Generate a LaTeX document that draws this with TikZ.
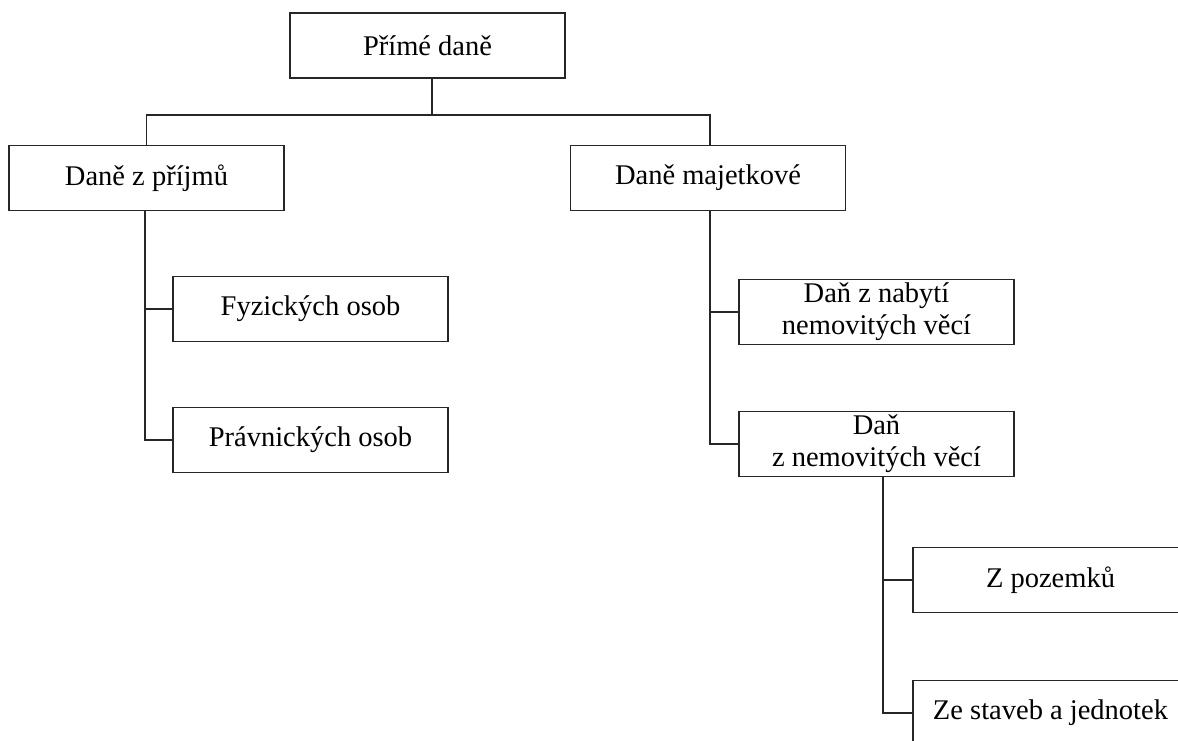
\documentclass[tikz,border=0pt]{standalone}
\usepackage{fontspec}
\setmainfont{Liberation Serif}
\begin{document}
\begin{tikzpicture}[x=1pt,y=-1pt,
  box/.style={draw=black!85,line width=1.9pt,inner sep=0pt,minimum width=275pt,minimum height=65pt,align=center,font=\fontsize{28.5}{32}\selectfont},
  link/.style={draw=black!85,line width=1.9pt}]
\useasboundingbox (0,0) rectangle (1178,740);
\clip (0,0) rectangle (1178,740);
\node[box] (top) at (427.5,45.5) {Přímé daně};
\node[box] (L1) at (146.5,178) {Daně z příjmů};
\node[box] (R1) at (708,178) {Daně majetkové};
\node[box] (F) at (310.5,309) {Fyzických osob};
\node[box] (P) at (310.5,440) {Právnických osob};
\node[box] (DN) at (876.5,312) {Daň z nabytí\\nemovitých věcí};
\node[box] (DZ) at (876.5,444) {Daň\\z nemovitých věcí};
\node[box] (ZP) at (1050.5,580) {Z pozemků};
\node[box] (ZS) at (1050.5,713) {Ze staveb a jednotek};
\coordinate (j) at ([xshift=4.5pt]top.south |- 0,115);
\draw[link] ([xshift=4.5pt]top.south) -- (j);
\draw[link] (L1.north) |- (j) -| ([xshift=2pt]R1.north);
\draw[link] ([xshift=-1.5pt]L1.south) |- (F.west);
\draw[link] ([xshift=-1.5pt]L1.south) |- (P.west);
\draw[link] ([xshift=2pt]R1.south) |- (DN.west);
\draw[link] ([xshift=2pt]R1.south) |- (DZ.west);
\draw[link] ([xshift=6.5pt]DZ.south) |- (ZP.west);
\draw[link] ([xshift=6.5pt]DZ.south) |- (ZS.west);
\end{tikzpicture}
\end{document}
